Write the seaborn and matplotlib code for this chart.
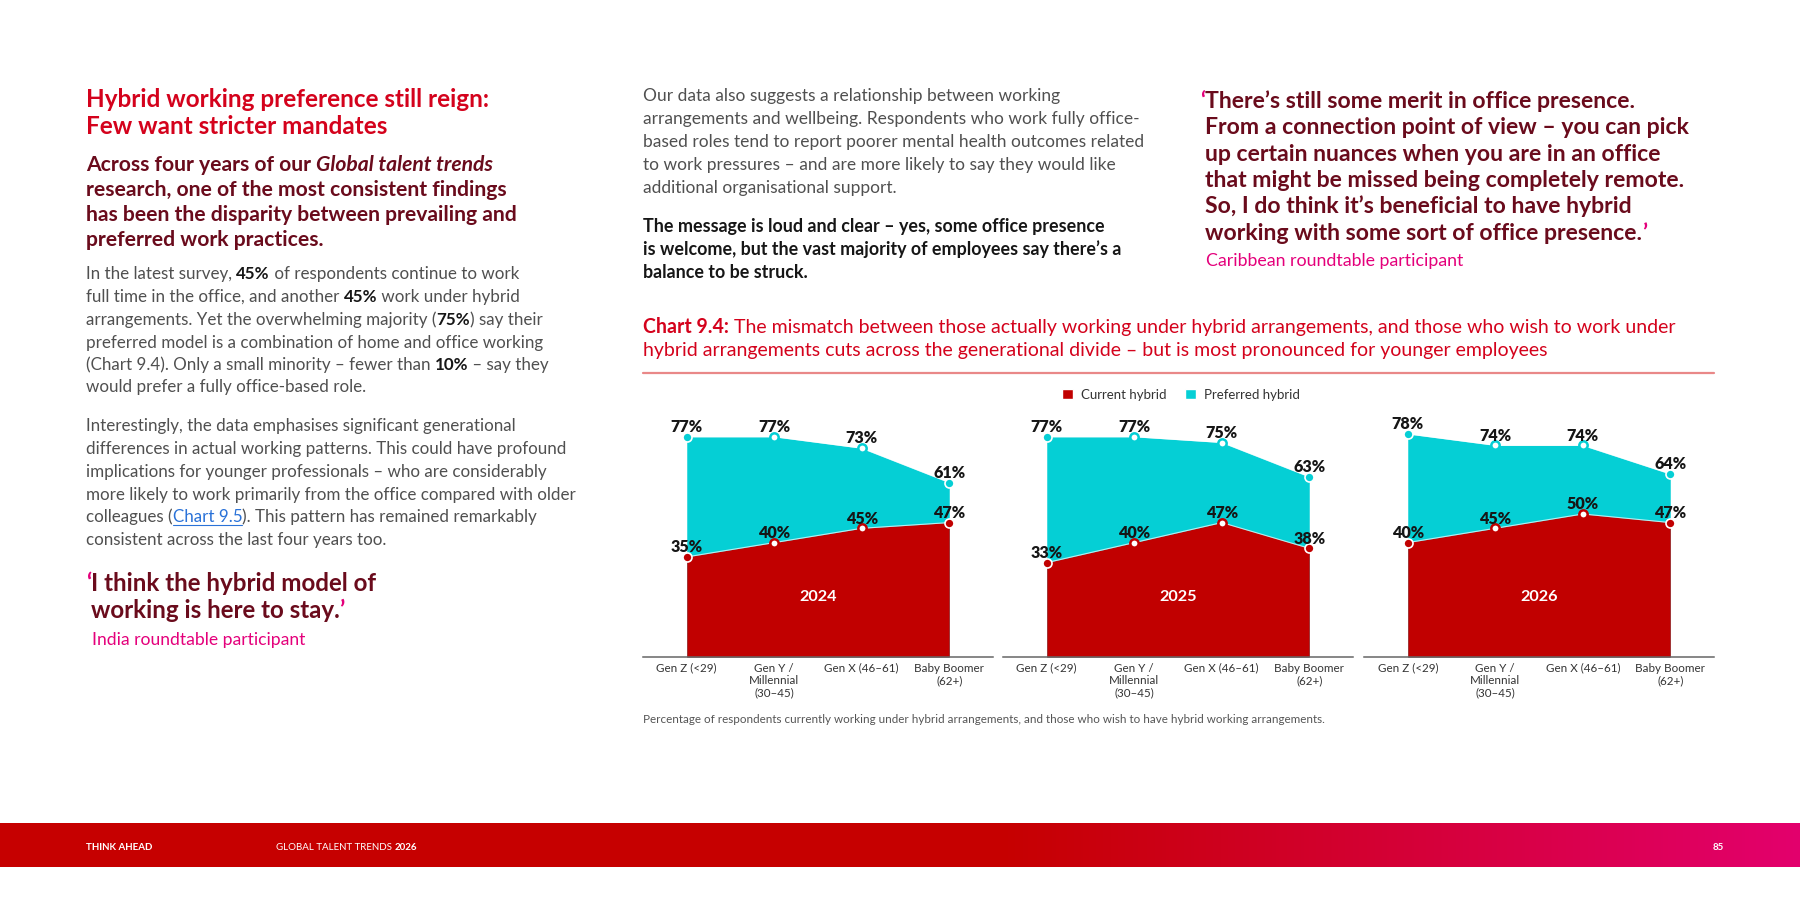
import numpy as np
import pandas as pd
import matplotlib
matplotlib.use("Agg")
import matplotlib.pyplot as plt
import seaborn as sns
from matplotlib.patches import Patch
from matplotlib.colors import to_rgb
from matplotlib.lines import Line2D

# ---------------- data ----------------
generations = ["Gen Z (<29)", "Gen Y /\nMillennial\n(30–45)", "Gen X (46–61)", "Baby Boomer\n(62+)"]
years = ["2024", "2025", "2026"]
current_2024 = [35, 40, 45, 47]
preferred_2024 = [77, 77, 73, 61]
current_2025 = [33, 40, 47, 38]
preferred_2025 = [77, 77, 75, 63]
current_2026 = [40, 45, 50, 47]
preferred_2026 = [78, 74, 74, 64]
series_labels = ["Current hybrid", "Preferred hybrid"]

current_by_year = [current_2024, current_2025, current_2026]
preferred_by_year = [preferred_2024, preferred_2025, preferred_2026]

rows = []
for yr, cur, pref in zip(years, current_by_year, preferred_by_year):
    for i, g in enumerate(generations):
        rows.append(dict(year=yr, gen=g, pos=i, current=cur[i], preferred=pref[i]))
df = pd.DataFrame(rows)

# ---------------- style ----------------
RED = "#C10000"
CYAN = "#05CFD5"
HEAD_RED = "#D4021C"
MAROON = "#6A0B1C"
PINK = "#E4007B"
GREY = "#505050"
BLACK = "#161616"
LINK = "#2A72D8"
FONT = ["Lato", "DejaVu Sans"]
BODY_W = "normal"

sns.set_theme(style="white")
plt.rcParams["font.family"] = FONT

W, H = 1800, 900
fig = plt.figure(figsize=(18, 9), dpi=100)
fig.patch.set_facecolor("white")
renderer = fig.canvas.get_renderer()


def adv(s, **kw):
    t1 = fig.text(0, 0, s + "|", **kw)
    w1 = t1.get_window_extent(renderer).width
    t1.remove()
    t2 = fig.text(0, 0, "|", **kw)
    w2 = t2.get_window_extent(renderer).width
    t2.remove()
    return w1 - w2


def fit(text, target, weight="normal", style="normal"):
    w = adv(text, fontsize=10, fontweight=weight, fontstyle=style)
    return 10 * target / w


def rich_line(x, y, segs, size, color, weight="normal", style="normal"):
    base = y + size * 100 / 72 * 0.36
    for seg in segs:
        if isinstance(seg, str):
            s, opt = seg, {}
        else:
            s, opt = seg
        kw = dict(fontsize=size, color=opt.get("c", color),
                  fontweight=opt.get("w", weight), fontstyle=opt.get("s", style))
        fig.text(x / W, 1 - base / H, s, ha="left", va="baseline", **kw)
        w = adv(s, **kw)
        if opt.get("u"):
            fig.add_artist(Line2D([x / W, (x + w) / W], [1 - (base + 2.5) / H] * 2,
                                  color=opt.get("c", color), lw=0.8))
        x += w
    return x


# ---------------- left column ----------------
LX = 86
s_head = fit("Hybrid working preference still reign:", 405, "bold")
rich_line(LX, 98, ["Hybrid working preference still reign:"], s_head, HEAD_RED, "bold")
rich_line(LX, 125, ["Few want stricter mandates"], s_head, HEAD_RED, "bold")

s_sub = fit("has been the disparity between prevailing and", 432, "bold")
sub_lines = [
    ["Across four years of our ", ("Global talent trends", {"s": "italic"})],
    ["research, one of the most consistent findings"],
    ["has been the disparity between prevailing and"],
    ["preferred work practices."],
]
for yy, segs in zip([163, 188, 213, 238], sub_lines):
    rich_line(LX, yy, segs, s_sub, MAROON, "bold")

s_body = fit("more likely to work primarily from the office compared with older", 490, BODY_W)
B = {"w": "bold", "c": BLACK}
p1 = [
    ["In the latest survey, ", ("45%", B), " of respondents continue to work"],
    ["full time in the office, and another ", ("45%", B), " work under hybrid"],
    ["arrangements. Yet the overwhelming majority (", ("75%", B), ") say their"],
    ["preferred model is a combination of home and office working"],
    ["(Chart 9.4). Only a small minority – fewer than ", ("10%", B), " – say they"],
    ["would prefer a fully office-based role."],
]
for yy, segs in zip([273, 296, 319, 342, 364, 386], p1):
    rich_line(LX, yy, segs, s_body, GREY, BODY_W)

p2 = [
    ["Interestingly, the data emphasises significant generational"],
    ["differences in actual working patterns. This could have profound"],
    ["implications for younger professionals – who are considerably"],
    ["more likely to work primarily from the office compared with older"],
    ["colleagues (", ("Chart 9.5", {"c": LINK, "u": True}), "). This pattern has remained remarkably"],
    ["consistent across the last four years too."],
]
for yy, segs in zip([425, 448, 471, 494, 516, 539], p2):
    rich_line(LX, yy, segs, s_body, GREY, BODY_W)

s_q1 = fit("I think the hybrid model of", 287, "bold")
qx = rich_line(LX, 582, [("‘", {"c": PINK})], s_q1, MAROON, "bold")
rich_line(qx, 582, ["I think the hybrid model of"], s_q1, MAROON, "bold")
rich_line(qx, 609, ["working is here to stay.", ("’", {"c": PINK})], s_q1, MAROON, "bold")
s_att1 = fit("India roundtable participant", 214)
rich_line(92, 639, ["India roundtable participant"], s_att1, PINK)

# ---------------- middle column ----------------
MX = 643
s_mid = fit("based roles tend to report poorer mental health outcomes related", 502, BODY_W)
mid_lines = [
    "Our data also suggests a relationship between working",
    "arrangements and wellbeing. Respondents who work fully office-",
    "based roles tend to report poorer mental health outcomes related",
    "to work pressures – and are more likely to say they would like",
    "additional organisational support.",
]
for yy, s in zip([95, 118, 141, 164, 187], mid_lines):
    rich_line(MX, yy, [s], s_mid, GREY, BODY_W)
s_midb = fit("is welcome, but the vast majority of employees say there’s a", 479, "bold")
midb_lines = [
    "The message is loud and clear – yes, some office presence",
    "is welcome, but the vast majority of employees say there’s a",
    "balance to be struck.",
]
for yy, s in zip([226, 249, 272], midb_lines):
    rich_line(MX, yy, [s], s_midb, BLACK, "bold")

# ---------------- right column ----------------
RX = 1200
s_q2 = fit("that might be missed being completely remote.", 480, "bold")
q2x = rich_line(RX, 100, [("‘", {"c": PINK})], s_q2, MAROON, "bold")
q2_lines = [
    ["There’s still some merit in office presence."],
    ["From a connection point of view – you can pick"],
    ["up certain nuances when you are in an office"],
    ["that might be missed being completely remote."],
    ["So, I do think it’s beneficial to have hybrid"],
    ["working with some sort of office presence.", ("’", {"c": PINK})],
]
for yy, segs in zip([100, 126, 153, 179, 205, 232], q2_lines):
    rich_line(q2x, yy, segs, s_q2, MAROON, "bold")
s_att2 = fit("Caribbean roundtable participant", 258)
rich_line(1206, 260, ["Caribbean roundtable participant"], s_att2, PINK)

# ---------------- chart title ----------------
title1 = [("Chart 9.4:", {"w": "bold"}),
          " The mismatch between those actually working under hybrid arrangements, and those who wish to work under"]
w_t = adv("Chart 9.4:", fontsize=10, fontweight="bold") + adv(title1[1], fontsize=10)
s_title = 10 * 1035 / w_t
rich_line(MX, 326, title1, s_title, HEAD_RED)
rich_line(MX, 349, ["hybrid arrangements cuts across the generational divide – but is most pronounced for younger employees"],
          s_title, HEAD_RED)
fig.add_artist(Line2D([643 / W, 1714 / W], [1 - 373 / H] * 2, color="#E98888", lw=1.6))

# ---------------- charts ----------------
panels_px = [(643, 993), (1003, 1353), (1364, 1714)]
AX_TOP, AX_BOT = 371, 657
s_tick = fit("Baby Boomer", 70)
s_val = fit("77%", 32, "heavy")
s_year = fit("2024", 38, "bold")

for (x0, x1), yr in zip(panels_px, years):
    ax = fig.add_axes([x0 / W, 1 - AX_BOT / H, (x1 - x0) / W, (AX_BOT - AX_TOP) / H])
    ax.patch.set_alpha(0)
    d = df[df["year"] == yr]
    ax.fill_between(d["pos"], 0, d["preferred"], color=CYAN, lw=0, zorder=1)
    ax.fill_between(d["pos"], 0, d["current"], color=RED, lw=0, zorder=2)
    sns.lineplot(data=d, x="pos", y="current", color="white", lw=0.8, alpha=0.7, ax=ax, zorder=3)
    sns.lineplot(data=d, x="pos", y="preferred", color="white", lw=0.8, alpha=0.7, ax=ax, zorder=3)
    ends = d[d["pos"].isin([0, 3])]
    mids = d[d["pos"].isin([1, 2])]
    for col, c in [("preferred", CYAN), ("current", RED)]:
        sns.scatterplot(data=ends, x="pos", y=col, color=c, edgecolor="white", linewidth=1.2,
                        s=42, ax=ax, zorder=5, clip_on=False)
        sns.scatterplot(data=mids, x="pos", y=col, color="white", edgecolor=c, linewidth=1.8,
                        s=36, ax=ax, zorder=5, clip_on=False)
        for p, v in zip(d["pos"], d[col]):
            ax.annotate(f"{v}%", (p, v), xytext=(0, 7), textcoords="offset points",
                        ha="center", va="center", fontsize=s_val, fontweight="heavy",
                        color=BLACK, zorder=6)
    ax.text(1.5, 21, yr, ha="center", va="center", color="white",
            fontsize=s_year, fontweight="bold", zorder=6)
    ax.set_xlim(-0.5, 3.5)
    ax.set_ylim(0, 100)
    ax.set_xticks(range(len(generations)))
    ax.set_xticklabels(generations, fontsize=s_tick, color="#333333", linespacing=1.15)
    ax.set_yticks([])
    ax.set_xlabel("")
    ax.set_ylabel("")
    ax.tick_params(axis="x", length=0, pad=4)
    sns.despine(ax=ax, left=True)
    ax.spines["bottom"].set_color("#666666")
    ax.spines["bottom"].set_linewidth(1.1)
    ax.spines["bottom"].set_zorder(7)
    ax.grid(False)

s_leg = fit("Current hybrid", 86)
handles = [Patch(facecolor=RED, label=series_labels[0]), Patch(facecolor=CYAN, label=series_labels[1])]
leg = fig.legend(handles=handles, loc="center", bbox_to_anchor=(1181 / W, 1 - 395 / H), ncol=2,
                 frameon=False, fontsize=s_leg, handlelength=0.8, handleheight=0.8,
                 handletextpad=0.6, columnspacing=1.4, borderpad=0)
for t in leg.get_texts():
    t.set_color("#333333")

cap = "Percentage of respondents currently working under hybrid arrangements, and those who wish to have hybrid working arrangements."
s_cap = fit(cap, 675, BODY_W)
rich_line(MX, 719, [cap], s_cap, "#555555", BODY_W)

# ---------------- footer band ----------------
fax = fig.add_axes([0, 1 - 867 / H, 1, 44 / H])
fax.axis("off")
xs = np.arange(W)
t = np.clip((xs - 1000) / 800, 0, 1)
c0 = np.array(to_rgb("#C60000"))
c1 = np.array(to_rgb("#E3006D"))
grad = c0[None, :] * (1 - t[:, None]) + c1[None, :] * t[:, None]
fax.imshow(grad[None, :, :], aspect="auto", extent=[0, 1, 0, 1])
fax.set_xlim(0, 1)
fax.set_ylim(0, 1)

s_f1 = fit("THINK AHEAD", 67, "bold")
rich_line(86, 846, ["THINK AHEAD"], s_f1, "white", "bold")
rich_line(276, 846, ["GLOBAL TALENT TRENDS ", ("2026", {"w": "bold"})], s_f1, "white")
rich_line(1713, 846, ["85"], s_f1, "white", "bold")

fig.savefig("out.png", dpi=100, facecolor="white")
